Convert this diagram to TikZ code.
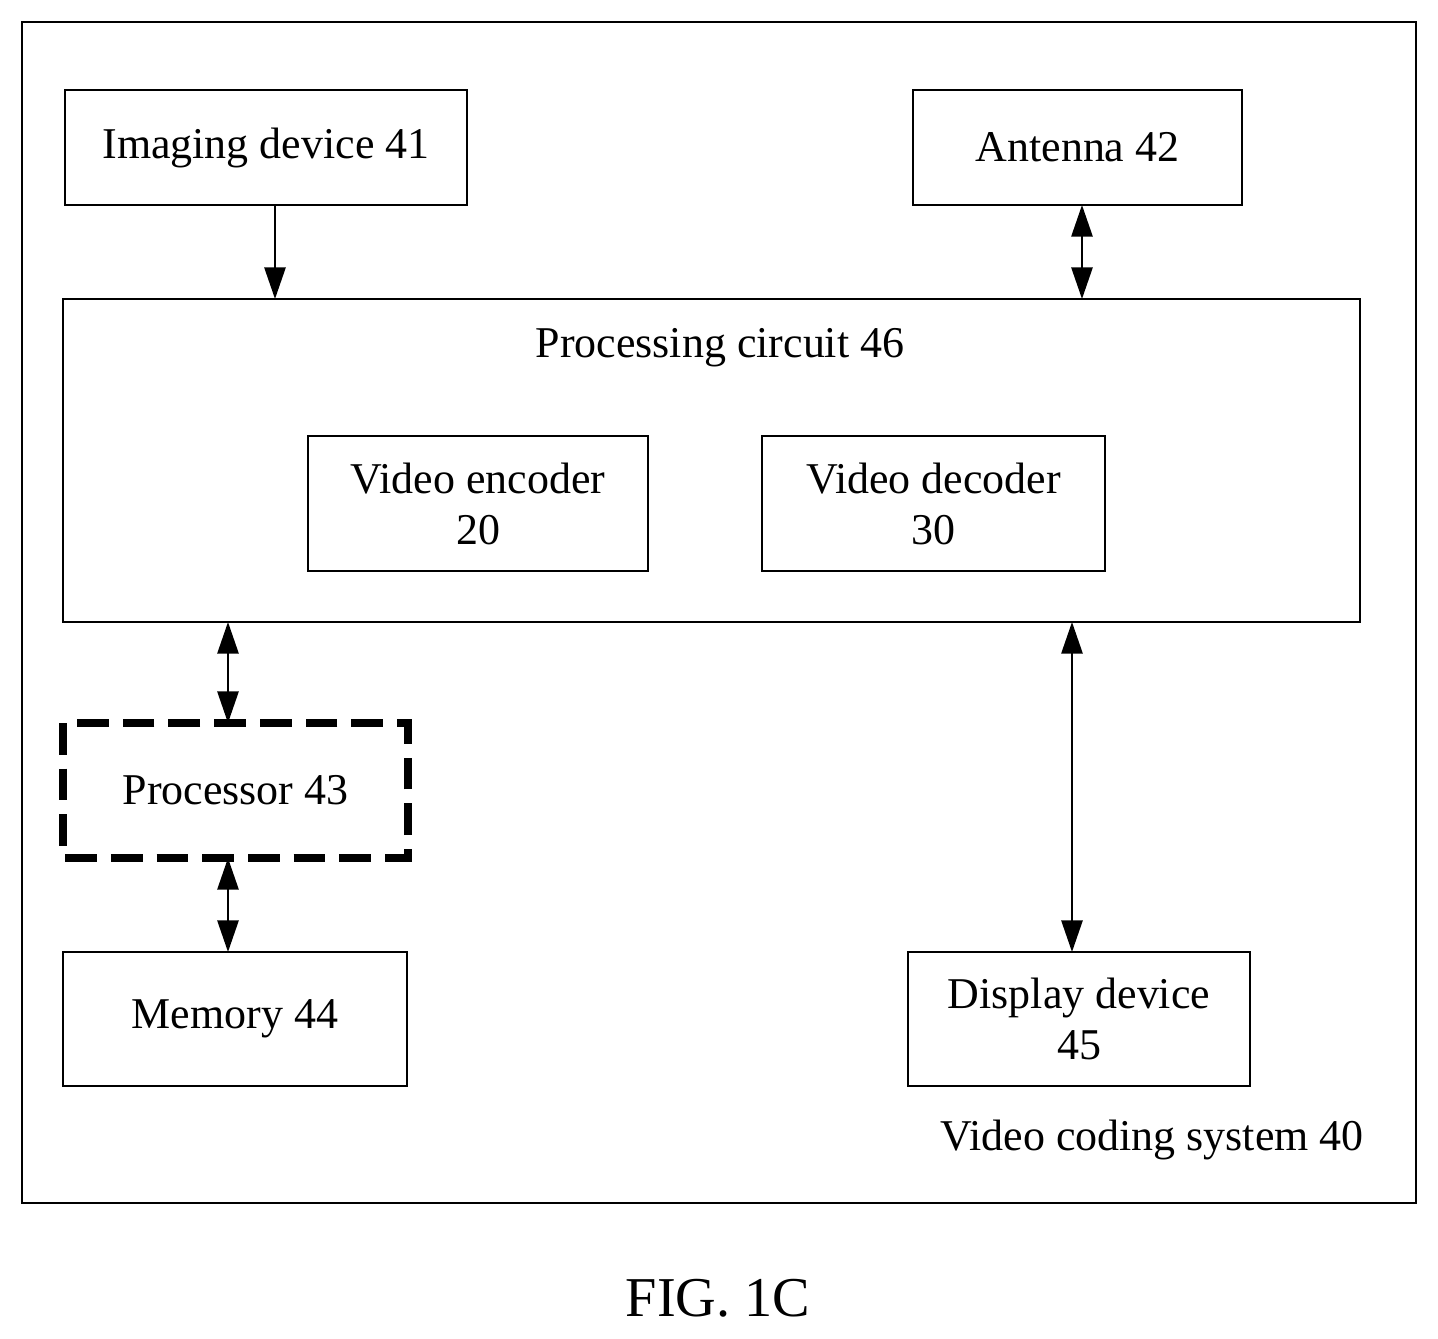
\documentclass[tikz,border=0pt]{standalone}
\usepackage{fontspec}
\setmainfont{Liberation Serif}
\usetikzlibrary{arrows.meta}
\begin{document}
\begin{tikzpicture}[x=0.01cm,y=-0.01cm,
  box/.style={draw,line width=0.7pt},
  lbl/.style={font=\fontsize{12.5pt}{14.5pt}\selectfont,align=center},
  arr/.style={line width=0.7pt,-{Triangle[length=9pt,width=6pt]}},
  darr/.style={line width=0.7pt,{Triangle[length=9pt,width=6pt]}-{Triangle[length=9pt,width=6pt]}}]
\useasboundingbox (0,0) rectangle (1438,1339);
\draw[box] (22,22) rectangle (1416,1203);
\draw[box] (65,90) rectangle (467,205) node[midway,lbl] (img) {Imaging device 41};
\draw[box] (913,90) rectangle (1242,205) node[midway,lbl] (ant) {Antenna 42};
\draw[box] (63,299) rectangle (1360,622);
\node[lbl] (pc) at (720,348) {Processing circuit 46};
\draw[box] (308,436) rectangle (648,571) node[midway,lbl] (enc) {Video encoder\\20};
\draw[box] (762,436) rectangle (1105,571) node[midway,lbl] (dec) {Video decoder\\30};
\draw[box,line width=2pt,dash pattern=on 9pt off 4pt] (63,723) rectangle (408,858) node[midway,lbl] (proc) {Processor 43};
\draw[box] (63,952) rectangle (407,1086) node[midway,lbl] (mem) {Memory 44};
\draw[box] (908,952) rectangle (1250,1086) node[midway,lbl] (disp) {Display device\\45};
\node[lbl] (sys) at (1152,1140) {Video coding system 40};
\node[font=\fontsize{16pt}{18pt}\selectfont] (fig) at (718,1298) {FIG. 1C};
\coordinate (a1) at (275,205); \coordinate (a2) at (275,299);
\coordinate (b1) at (1082,205); \coordinate (b2) at (1082,299);
\coordinate (c1) at (228,622); \coordinate (c2) at (228,723);
\coordinate (d1) at (228,858); \coordinate (d2) at (228,952);
\coordinate (e1) at (1072,622); \coordinate (e2) at (1072,952);
\draw[arr] (a1) -- (a2);
\draw[darr] (b1) -- (b2);
\draw[darr] (c1) -- (c2);
\draw[darr] (d1) -- (d2);
\draw[darr] (e1) -- (e2);
\end{tikzpicture}
\end{document}
